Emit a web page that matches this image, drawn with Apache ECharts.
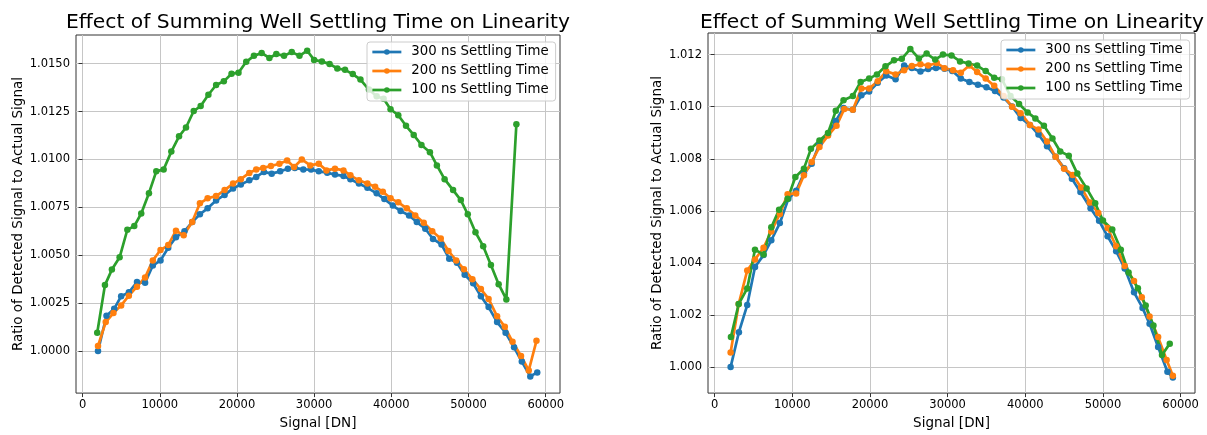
<!DOCTYPE html>
<html>
<head>
<meta charset="utf-8">
<script src="https://cdn.jsdelivr.net/npm/echarts@6/dist/echarts.min.js"></script>
<style>
  html, body { margin: 0; padding: 0; background: #fff; }
  #chart { width: 1207px; height: 435px; }
</style>
</head>
<body>
<div id="chart"></div>
<script>
// 左图 数据
var leftX300 = [2000, 3100, 4100, 5000, 6000, 7050, 8100, 9100, 10100, 11100, 12100, 13200, 14200, 15200, 16200, 17300, 18400, 19500, 20500, 21600, 22500, 23500, 24500, 25600, 26600, 27500, 28600, 29600, 30600, 31700, 32700, 33800, 34700, 35800, 36900, 38100, 39100, 40200, 41200, 42300, 43300, 44400, 45400, 46500, 47500, 48500, 49500, 50600, 51600, 52600, 53700, 54800, 55900, 56900, 58000, 58900];
var left300 = [1.00000, 1.00184, 1.00220, 1.00286, 1.00306, 1.00360, 1.00356, 1.00446, 1.00473, 1.00539, 1.00594, 1.00625, 1.00673, 1.00714, 1.00745, 1.00786, 1.00815, 1.00849, 1.00869, 1.00891, 1.00909, 1.00935, 1.00926, 1.00938, 1.00952, 1.00956, 1.00948, 1.00947, 1.00938, 1.00931, 1.00921, 1.00914, 1.00897, 1.00874, 1.00852, 1.00823, 1.00793, 1.00759, 1.00731, 1.00708, 1.00673, 1.00638, 1.00585, 1.00556, 1.00482, 1.00461, 1.00398, 1.00353, 1.00286, 1.00229, 1.00151, 1.00095, 1.00019, 0.99945, 0.99867, 0.99888];
var leftX200 = [2000, 3000, 4000, 5000, 6000, 7050, 8100, 9100, 10100, 11100, 12100, 13100, 14200, 15200, 16200, 17300, 18400, 19500, 20500, 21600, 22500, 23400, 24400, 25500, 26500, 27400, 28400, 29500, 30600, 31600, 32700, 33800, 34700, 35800, 36900, 37900, 38900, 39900, 40900, 42000, 43100, 44200, 45300, 46400, 47400, 48400, 49400, 50500, 51600, 52600, 53700, 54700, 55700, 56800, 57800, 58800];
var left200 = [1.00026, 1.00151, 1.00198, 1.00238, 1.00289, 1.00336, 1.00384, 1.00473, 1.00527, 1.00553, 1.00628, 1.00604, 1.00673, 1.00771, 1.00797, 1.00809, 1.00840, 1.00874, 1.00897, 1.00930, 1.00948, 1.00956, 1.00966, 1.00978, 1.00995, 1.00961, 1.01000, 1.00969, 1.00978, 1.00943, 1.00952, 1.00943, 1.00917, 1.00891, 1.00874, 1.00857, 1.00832, 1.00797, 1.00776, 1.00745, 1.00708, 1.00670, 1.00625, 1.00587, 1.00522, 1.00473, 1.00427, 1.00375, 1.00323, 1.00272, 1.00181, 1.00126, 1.00048, 0.99974, 0.99898, 1.00053];
var leftX100 = [1900, 2900, 3800, 4800, 5800, 6700, 7600, 8600, 9550, 10500, 11500, 12500, 13400, 14400, 15300, 16300, 17300, 18300, 19300, 20200, 21200, 22200, 23200, 24200, 25100, 26100, 27100, 28100, 29100, 30000, 31000, 32000, 33000, 34000, 35000, 36000, 37100, 38100, 39000, 39900, 40900, 41900, 42900, 43900, 45000, 45900, 46900, 48000, 49000, 49900, 50900, 51900, 52900, 53900, 54900, 56200];
var left100 = [1.00095, 1.00344, 1.00425, 1.00489, 1.00633, 1.00652, 1.00718, 1.00824, 1.00938, 1.00948, 1.01041, 1.01121, 1.01167, 1.01253, 1.01279, 1.01338, 1.01389, 1.01408, 1.01448, 1.01453, 1.01510, 1.01541, 1.01556, 1.01530, 1.01551, 1.01541, 1.01561, 1.01541, 1.01568, 1.01520, 1.01511, 1.01499, 1.01475, 1.01468, 1.01446, 1.01417, 1.01365, 1.01330, 1.01317, 1.01262, 1.01231, 1.01176, 1.01128, 1.01076, 1.01038, 1.00969, 1.00897, 1.00840, 1.00788, 1.00714, 1.00620, 1.00547, 1.00449, 1.00349, 1.00269, 1.01184];

// 右图 数据
var rightX300 = [2060, 3130, 4200, 5200, 6300, 7300, 8400, 9500, 10500, 11500, 12500, 13500, 14600, 15600, 16600, 17800, 18900, 19900, 21000, 22100, 23300, 24400, 25400, 26500, 27500, 28500, 29600, 30600, 31700, 32800, 33900, 35000, 36100, 37200, 38300, 39400, 40600, 41700, 42800, 43900, 45000, 46000, 47100, 48400, 49500, 50600, 51700, 52800, 54000, 55100, 56000, 57100, 58300, 59000];
var right300 = [1.00000, 1.00134, 1.00238, 1.00384, 1.00430, 1.00487, 1.00553, 1.00646, 1.00677, 1.00743, 1.00781, 1.00858, 1.00892, 1.00945, 1.00995, 1.00988, 1.01044, 1.01058, 1.01092, 1.01120, 1.01105, 1.01158, 1.01149, 1.01135, 1.01145, 1.01149, 1.01146, 1.01137, 1.01108, 1.01095, 1.01084, 1.01075, 1.01060, 1.01035, 1.01001, 1.00957, 1.00930, 1.00893, 1.00848, 1.00808, 1.00764, 1.00723, 1.00672, 1.00610, 1.00562, 1.00502, 1.00445, 1.00379, 1.00287, 1.00227, 1.00166, 1.00077, 0.99982, 0.99960];
var rightX200 = [2060, 3100, 4200, 5200, 6300, 7300, 8400, 9400, 10500, 11500, 12500, 13500, 14600, 15700, 16700, 17800, 18900, 19900, 21000, 22100, 23300, 24400, 25400, 26500, 27500, 28600, 29600, 30700, 31700, 32800, 33800, 34900, 36000, 37200, 38300, 39400, 40600, 41700, 42800, 43900, 45000, 46100, 47200, 48300, 49400, 50600, 51700, 52800, 54000, 55000, 56000, 57100, 58200, 59000];
var right200 = [1.00056, 1.00242, 1.00371, 1.00413, 1.00458, 1.00521, 1.00588, 1.00664, 1.00667, 1.00737, 1.00788, 1.00845, 1.00889, 1.00927, 1.00991, 1.00988, 1.01070, 1.01070, 1.01098, 1.01136, 1.01124, 1.01140, 1.01156, 1.01163, 1.01158, 1.01168, 1.01148, 1.01140, 1.01130, 1.01158, 1.01133, 1.01108, 1.01080, 1.01041, 1.01000, 1.00975, 1.00930, 1.00912, 1.00866, 1.00808, 1.00762, 1.00738, 1.00690, 1.00632, 1.00592, 1.00534, 1.00464, 1.00388, 1.00331, 1.00268, 1.00194, 1.00115, 1.00027, 0.99967];
var rightX100 = [2100, 3100, 4200, 5200, 6300, 7300, 8300, 9400, 10400, 11500, 12400, 13500, 14600, 15600, 16600, 17800, 18800, 19900, 20900, 22000, 23100, 24100, 25200, 26300, 27300, 28400, 29400, 30500, 31600, 32700, 33800, 34900, 36000, 37000, 38100, 39200, 40300, 41300, 42400, 43500, 44500, 45600, 46700, 47900, 49000, 50000, 51200, 52300, 53300, 54500, 55500, 56500, 57600, 58600];
var right100 = [1.00115, 1.00242, 1.00302, 1.00451, 1.00432, 1.00537, 1.00604, 1.00646, 1.00730, 1.00762, 1.00838, 1.00870, 1.00899, 1.00984, 1.01025, 1.01041, 1.01095, 1.01108, 1.01124, 1.01155, 1.01178, 1.01184, 1.01222, 1.01185, 1.01204, 1.01181, 1.01200, 1.01197, 1.01174, 1.01166, 1.01158, 1.01137, 1.01111, 1.01105, 1.01041, 1.01010, 1.00978, 1.00955, 1.00927, 1.00878, 1.00828, 1.00812, 1.00743, 1.00686, 1.00629, 1.00563, 1.00528, 1.00451, 1.00363, 1.00303, 1.00236, 1.00160, 1.00046, 1.00090];

// 刻度
var xTicks = [0, 10000, 20000, 30000, 40000, 50000, 60000];
var leftYTicks = [1.0000, 1.0025, 1.0050, 1.0075, 1.0100, 1.0125, 1.0150];
var rightYTicks = [1.000, 1.002, 1.004, 1.006, 1.008, 1.010, 1.012];

var names = ['300 ns Settling Time', '200 ns Settling Time', '100 ns Settling Time'];
var colors = ['#1f77b4', '#ff7f0e', '#2ca02c'];
var titleText = 'Effect of Summing Well Settling Time on Linearity';
var font = 'DejaVu Sans';

function zip(xs, ys) {
	var out = [];
	for (var i = 0; i < xs.length; i++) out.push([xs[i], ys[i]]);
	return out;
}

function makeX(idx) {
	return {
		type : 'value',
		gridIndex : idx,
		min : -850,
		max : 61850,
		name : 'Signal [DN]',
		nameLocation : 'middle',
		nameGap : 16,
		nameTextStyle : { fontFamily : font, fontSize : 13.5, color : '#000', verticalAlign : 'top' },
		axisLine : { show : false },
		axisTick : { show : true, length : 4, lineStyle : { color : '#333' }, customValues : xTicks },
		axisLabel : {
			fontFamily : font, fontSize : 11.5, color : '#000', margin : 6,
			customValues : xTicks,
			formatter : function(v) { return String(Math.round(v)); }
		},
		splitLine : { show : true, lineStyle : { color : '#c6c6c6', width : 1 } }
	};
}

function makeY(idx, min, max, ticks, digits, gap) {
	return {
		type : 'value',
		gridIndex : idx,
		min : min,
		max : max,
		name : 'Ratio of Detected Signal to Actual Signal',
		nameLocation : 'middle',
		nameGap : gap,
		nameTextStyle : { fontFamily : font, fontSize : 13.5, color : '#000' },
		axisLine : { show : false },
		axisTick : { show : true, length : 4, lineStyle : { color : '#333' }, customValues : ticks },
		axisLabel : {
			fontFamily : font, fontSize : 11.5, color : '#000', margin : 6,
			customValues : ticks,
			formatter : function(v) { return v.toFixed(digits); }
		},
		splitLine : { show : true, lineStyle : { color : '#c6c6c6', width : 1 } }
	};
}

function makeSeries(idx, name, color, xs, ys) {
	return {
		name : name,
		type : 'line',
		xAxisIndex : idx,
		yAxisIndex : idx,
		data : zip(xs, ys),
		symbol : 'circle',
		symbolSize : 6.5,
		showSymbol : true,
		animation : false,
		itemStyle : { color : color },
		lineStyle : { color : color, width : 2.7 }
	};
}

function makeLegend(left, top) {
	return {
		orient : 'vertical',
		left : left,
		top : top,
		data : names,
		itemWidth : 29,
		itemHeight : 7,
		itemGap : 3,
		padding : [2, 7, 3, 4],
		backgroundColor : 'rgba(255,255,255,0.8)',
		borderColor : '#cccccc',
		borderWidth : 1,
		borderRadius : 3,
		lineStyle : { width : 2.7 },
		textStyle : { fontFamily : font, fontSize : 13.3, color : '#000', lineHeight : 16, padding : [0, 0, 0, 5] }
	};
}

var option = {
	backgroundColor : '#fff',
	animation : false,
	title : [ {
		text : titleText,
		left : 313,
		top : 8,
		textAlign : 'center',
		textStyle : { fontFamily : font, fontSize : 20.3, fontWeight : 'normal', color : '#000' }
	}, {
		text : titleText,
		left : 947,
		top : 8,
		textAlign : 'center',
		textStyle : { fontFamily : font, fontSize : 20.3, fontWeight : 'normal', color : '#000' }
	} ],
	legend : [ makeLegend(367, 42), makeLegend(1001, 40) ],
	grid : [ {
		left : 76, top : 35, width : 484, height : 362,
		show : true, borderColor : '#333', borderWidth : 1, backgroundColor : 'transparent'
	}, {
		left : 708, top : 33, width : 487, height : 364,
		show : true, borderColor : '#333', borderWidth : 1, backgroundColor : 'transparent'
	} ],
	xAxis : [ makeX(0), makeX(1) ],
	yAxis : [
		makeY(0, 0.9978, 1.0165, leftYTicks, 4, 51),
		makeY(1, 0.9990, 1.01283, rightYTicks, 3, 44)
	],
	series : [
		makeSeries(0, names[0], colors[0], leftX300, left300),
		makeSeries(0, names[1], colors[1], leftX200, left200),
		makeSeries(0, names[2], colors[2], leftX100, left100),
		makeSeries(1, names[0], colors[0], rightX300, right300),
		makeSeries(1, names[1], colors[1], rightX200, right200),
		makeSeries(1, names[2], colors[2], rightX100, right100)
	]
};

var chart = echarts.init(document.getElementById('chart'), null, { renderer : 'canvas' });
chart.setOption(option);
</script>
</body>
</html>
